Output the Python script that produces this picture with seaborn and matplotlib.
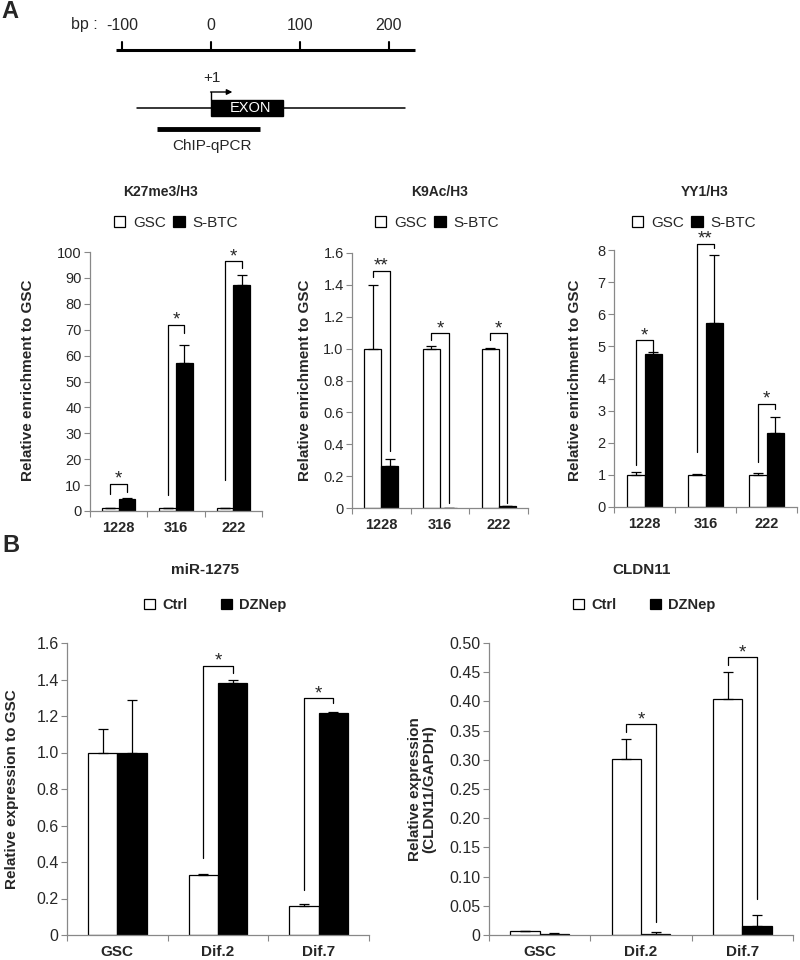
import numpy as np
import pandas as pd
import seaborn as sns
import matplotlib.pyplot as plt
from matplotlib.patches import Patch, Rectangle
from matplotlib.ticker import FuncFormatter, MultipleLocator

# ---- Panel A: ChIP-qPCR at three sites ----
sites = ['1228', '316', '222']
cells = ['GSC', 'S-BTC']

k27_gsc = [1.0, 1.0, 1.0]
k27_gsc_err = [0.1, 0.2, 0.1]
k27_sbtc = [4.8, 57.2, 87.4]
k27_sbtc_err = [0.3, 7.0, 3.8]
k27_sig = ['*', '*', '*']
k27_tops = [10.6, 71.9, 96.4]
k27_left = [6.7, 6.0, 11.9]
k27_right = [7.4, 68.6, 93.8]

k9_gsc = [1.0, 1.0, 1.0]
k9_gsc_err = [0.40, 0.015, 0.005]
k9_sbtc = [0.265, 0.003, 0.012]
k9_sbtc_err = [0.04, 0.0, 0.002]
k9_sig = ['**', '*', '*']
k9_tops = [1.49, 1.096, 1.096]
k9_left = [1.45, 1.054, 1.054]
k9_right = [0.355, 0.03, 0.03]

yy1_gsc = [1.0, 1.0, 1.0]
yy1_gsc_err = [0.1, 0.02, 0.06]
yy1_sbtc = [4.75, 5.72, 2.3]
yy1_sbtc_err = [0.07, 2.13, 0.5]
yy1_sig = ['*', '**', '*']
yy1_tops = [5.19, 8.2, 3.22]
yy1_left = [1.3, 1.71, 1.40]
yy1_right = [4.83, 8.05, 3.06]

# ---- Panel B: expression after DZNep ----
stages = ['GSC', 'Dif.2', 'Dif.7']
treatments = ['Ctrl', 'DZNep']

mir_ctrl = [1.0, 0.33, 0.16]
mir_ctrl_err = [0.13, 0.005, 0.01]
mir_dznep = [1.0, 1.38, 1.215]
mir_dznep_err = [0.29, 0.015, 0.008]
mir_sig = ['', '*', '*']
mir_tops = [None, 1.476, 1.298]
mir_left = [None, 0.42, 0.247]
mir_right = [None, 1.435, 1.27]

cldn_ctrl = [0.006, 0.302, 0.404]
cldn_ctrl_err = [0.0005, 0.033, 0.046]
cldn_dznep = [0.002, 0.002, 0.016]
cldn_dznep_err = [0.001, 0.003, 0.019]
cldn_sig = ['', '*', '*']
cldn_tops = [None, 0.3606, 0.476]
cldn_left = [None, 0.347, 0.462]
cldn_right = [None, 0.022, 0.062]

# promoter diagram (bp)
ruler_ticks = [-100, 0, 100, 200]
ruler_span = (-107, 229)
locus_span = (-83, 218)
exon_span = (0, 81)
amplicon_span = (-61, 55)

sns.set_theme(style='white')
plt.rcParams['font.family'] = ['Liberation Sans', 'DejaVu Sans']

W, H = 800, 960
fig = plt.figure(figsize=(8, 9.6), dpi=100)


def box(l, r, t, b):
    # pixel box -> figure fraction
    return [l / W, 1 - b / H, (r - l) / W, (b - t) / H]


def fmt_tick(dec):
    def f(v, pos):
        if abs(v) < 1e-9:
            return '0'
        return f'{v:.{dec}f}'
    return FuncFormatter(f)


def bar_chart(ax, cats, names, v0, e0, v1, e1, ymax, ystep, dec,
              sig, tops, left, right, fs, xfs):
    df = pd.DataFrame({'cat': cats * 2,
                       'grp': [names[0]] * 3 + [names[1]] * 3,
                       'val': v0 + v1})
    sns.barplot(data=df, x='cat', y='val', hue='grp',
                palette={names[0]: 'white', names[1]: 'black'},
                edgecolor='black', linewidth=0.9, width=0.58, saturation=1,
                errorbar=None, legend=False, ax=ax)
    bars = sorted(ax.patches, key=lambda p: p.get_x())
    xs = [p.get_x() + p.get_width() / 2 for p in bars]
    vals, errs = [], []
    for i in range(3):
        vals += [v0[i], v1[i]]
        errs += [e0[i], e1[i]]
    ax.errorbar(xs, vals, yerr=[np.zeros(6), errs], fmt='none',
                ecolor='black', elinewidth=0.9, capsize=3.5, capthick=0.9)

    # significance brackets
    for i in range(3):
        if not sig[i]:
            continue
        xl, xr = xs[2 * i], xs[2 * i + 1]
        ax.plot([xl, xl, xr, xr], [left[i], tops[i], tops[i], right[i]],
                color='black', lw=0.9, clip_on=False)
        ax.text((xl + xr) / 2, tops[i], sig[i], ha='center',
                va='baseline', fontsize=13.5, clip_on=False)

    ax.set_xlim(-0.5, 2.5)
    ax.set_ylim(0, ymax)
    ax.yaxis.set_major_locator(MultipleLocator(ystep))
    ax.yaxis.set_major_formatter(fmt_tick(dec))
    ax.set_xticks([0, 1, 2])
    ax.set_xticklabels(cats, fontweight='bold', fontsize=xfs)
    ax.set_xticks([-0.5, 0.5, 1.5, 2.5], minor=True)
    ax.tick_params(axis='x', which='major', length=0, pad=7)
    ax.tick_params(axis='x', which='minor', length=4, width=0.8,
                   direction='out', color='#888888', bottom=True)
    ax.tick_params(axis='y', length=4, width=0.8, direction='out',
                   color='#888888', left=True, labelsize=fs, pad=2)
    ax.set_xlabel('')
    ax.set_ylabel('')
    for s in ['top', 'right']:
        ax.spines[s].set_visible(False)
    for s in ['left', 'bottom']:
        ax.spines[s].set_color('#888888')
        ax.spines[s].set_linewidth(0.9)


def legend_at(x, y, names, bold, spacing, fs):
    handles = [Patch(facecolor='white', edgecolor='black', lw=0.9),
               Patch(facecolor='black', edgecolor='black', lw=0.9)]
    fig.legend(handles, names, loc='center', bbox_to_anchor=(x / W, 1 - y / H),
               ncol=2, frameon=False, handlelength=0.75, handleheight=0.75,
               handletextpad=0.5, columnspacing=spacing,
               prop={'size': fs, 'weight': 'bold' if bold else 'normal'})


# ---- promoter diagram ----
axd = fig.add_axes(box(100, 440, 0, 160))
axd.set_xlim((100 - 211) / 0.89, (440 - 211) / 0.89)
axd.set_ylim(160, 0)
axd.axis('off')
axd.plot(ruler_span, [50, 50], color='black', lw=2.2, solid_capstyle='butt')
for t in ruler_ticks:
    axd.plot([t, t], [42, 50], color='black', lw=1.5)
    axd.text(t, 25, str(t), ha='center', va='center', fontsize=11.5)
axd.text(-127, 25, 'bp :', ha='right', va='center', fontsize=11.5)
axd.plot(locus_span, [108, 108], color='black', lw=1.1)
axd.add_patch(Rectangle((exon_span[0], 100), exon_span[1] - exon_span[0], 16,
                        facecolor='black', edgecolor='black'))
axd.text(44, 108.5, 'EXON', color='white', ha='center', va='center', fontsize=10.5)
axd.plot([0, 0], [100, 92], color='black', lw=1)
axd.annotate('', xy=(24, 92), xytext=(-0.5, 92),
             arrowprops=dict(arrowstyle='-|>', color='black', lw=1,
                             mutation_scale=8, shrinkA=0, shrinkB=0))
axd.text(1, 78, '+1', ha='center', va='center', fontsize=11)
axd.plot(amplicon_span, [129, 129], color='black', lw=3.5, solid_capstyle='butt')
axd.text(1, 146, 'ChIP-qPCR', ha='center', va='center', fontsize=11)

fig.text(1 / W, 1 - 11 / H, 'A', fontsize=17, fontweight='bold', va='center')
fig.text(2 / W, 1 - 546 / H, 'B', fontsize=17, fontweight='bold', va='center')

# ---- panel A charts ----
ax1 = fig.add_axes(box(90, 262, 252, 511))
bar_chart(ax1, sites, cells, k27_gsc, k27_gsc_err, k27_sbtc, k27_sbtc_err,
          100, 10, 0, k27_sig, k27_tops, k27_left, k27_right, 10.5, 10.5)
ax2 = fig.add_axes(box(352, 528, 253, 508))
bar_chart(ax2, sites, cells, k9_gsc, k9_gsc_err, k9_sbtc, k9_sbtc_err,
          1.6, 0.2, 1, k9_sig, k9_tops, k9_left, k9_right, 10.5, 10.5)
ax3 = fig.add_axes(box(614, 797, 250, 507))
bar_chart(ax3, sites, cells, yy1_gsc, yy1_gsc_err, yy1_sbtc, yy1_sbtc_err,
          8, 1, 0, yy1_sig, yy1_tops, yy1_left, yy1_right, 10.5, 10.5)

for cx, title in [(161, 'K27me3/H3'), (440, 'K9Ac/H3'), (705, 'YY1/H3')]:
    fig.text(cx / W, 1 - 192 / H, title, ha='center', va='center',
             fontsize=10, fontweight='bold')
for cx in [176, 437, 694]:
    legend_at(cx, 223, cells, False, 0.5, 11)
for x in [28, 305, 575]:
    fig.text(x / W, 1 - 380 / H, 'Relative enrichment to GSC', rotation=90,
             ha='center', va='center', fontsize=11, fontweight='bold')

# ---- panel B charts ----
ax4 = fig.add_axes(box(67, 369, 643, 935))
bar_chart(ax4, stages, treatments, mir_ctrl, mir_ctrl_err, mir_dznep,
          mir_dznep_err, 1.6, 0.2, 1, mir_sig, mir_tops, mir_left,
          mir_right, 11.5, 11)
ax5 = fig.add_axes(box(489, 793, 643, 935))
bar_chart(ax5, stages, treatments, cldn_ctrl, cldn_ctrl_err, cldn_dznep,
          cldn_dznep_err, 0.5, 0.05, 2, cldn_sig, cldn_tops, cldn_left,
          cldn_right, 11.5, 11)

fig.text(205 / W, 1 - 570 / H, 'miR-1275', ha='center', va='center',
         fontsize=11, fontweight='bold')
fig.text(642 / W, 1 - 570 / H, 'CLDN11', ha='center', va='center',
         fontsize=11, fontweight='bold')
legend_at(215, 605, treatments, True, 2.3, 10.5)
legend_at(644, 605, treatments, True, 2.3, 10.5)
fig.text(12 / W, 1 - 789 / H, 'Relative expression to GSC', rotation=90,
         ha='center', va='center', fontsize=11, fontweight='bold')
fig.text(422 / W, 1 - 789 / H, 'Relative expression\n(CLDN11/GAPDH)',
         rotation=90, ha='center', va='center', fontsize=11,
         fontweight='bold', linespacing=1.05)

fig.savefig('out.png', dpi=100, facecolor='white')
